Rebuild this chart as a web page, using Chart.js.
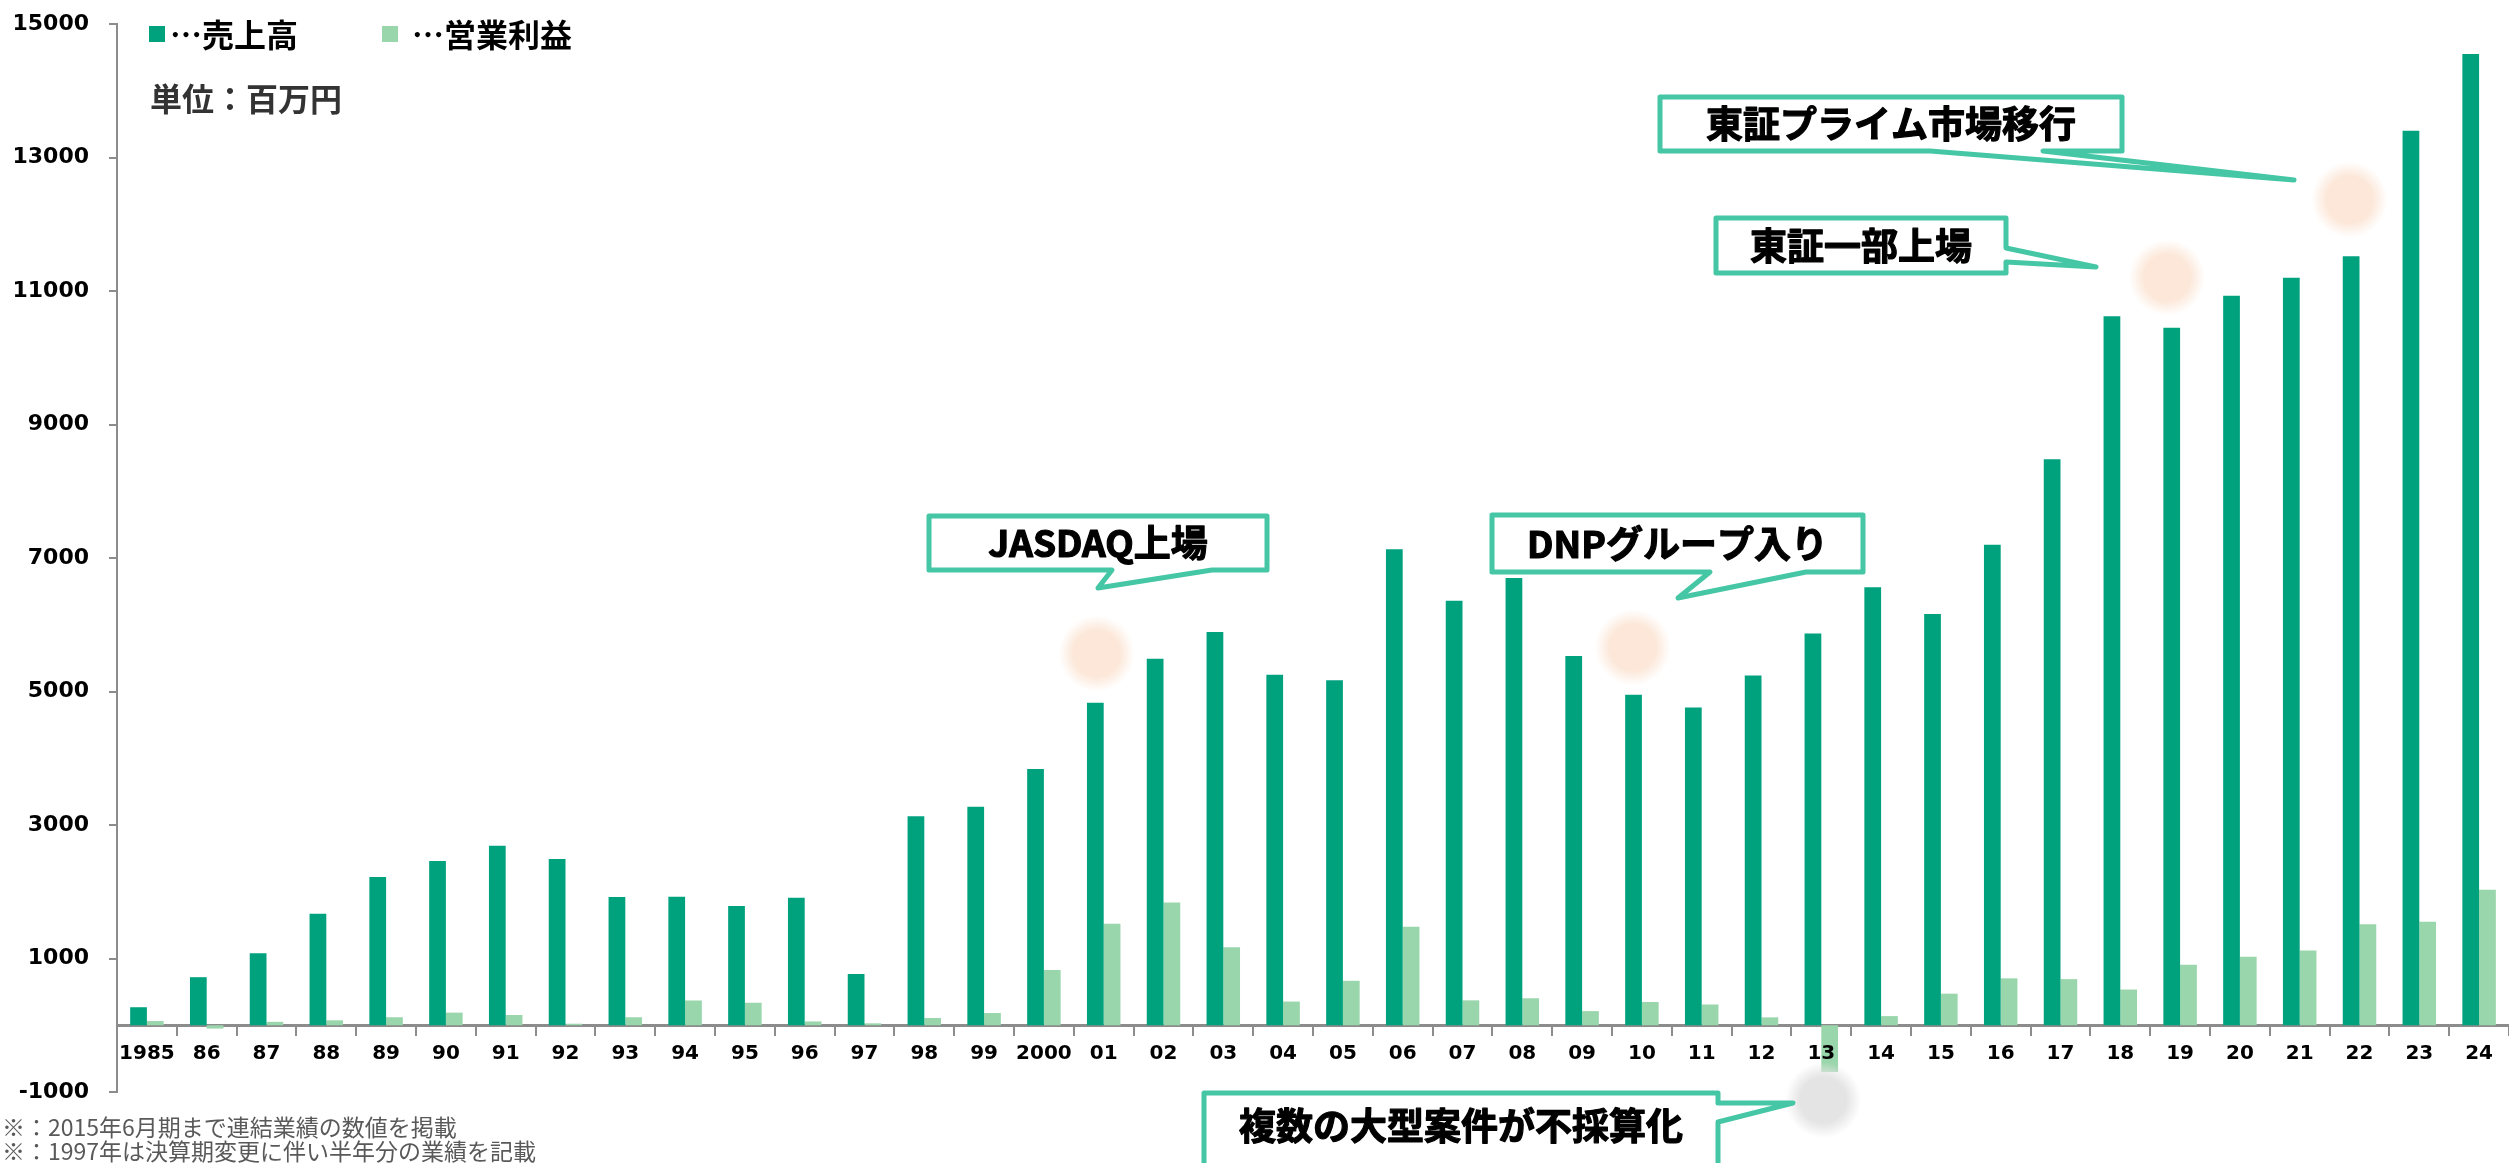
<!DOCTYPE html>
<html>
<head>
<meta charset="utf-8">
<script src="https://cdn.jsdelivr.net/npm/chart.js@4.4.1/dist/chart.umd.min.js"></script>
<style>
  html, body { margin: 0; padding: 0; background: #fff; }
  #wrap { width: 2509px; height: 1163px; position: relative; }
</style>
</head>
<body>
<div id="wrap"><canvas id="salesChart" width="2509" height="1163"></canvas></div>
<script>
// data (百万円)
const years = ["1985", "86", "87", "88", "89", "90", "91", "92", "93", "94", "95", "96", "97", "98", "99",
  "2000", "01", "02", "03", "04", "05", "06", "07", "08", "09", "10", "11", "12", "13", "14", "15",
  "16", "17", "18", "19", "20", "21", "22", "23", "24"];
const salesLabel = "売上高";
const profitLabel = "営業利益";
const sales = [270, 720, 1080, 1670, 2220, 2460, 2690, 2490, 1920, 1925, 1785, 1910, 766, 3130, 3275,
  3840, 4830, 5490, 5890, 5250, 5170, 7130, 6360, 6700, 5530, 4950, 4760, 5240, 5870, 6560, 6160,
  7200, 8480, 10620, 10450, 10930, 11200, 11520, 13400, 14550];
const profit = [63, -50, 51, 74, 120, 189, 154, 23, 120, 371, 337, 57, 29, 109, 183,
  829, 1520, 1840, 1170, 355, 666, 1475, 373, 404, 212, 348, 311, 118, -700, 137, 473,
  703, 691, 535, 908, 1027, 1120, 1512, 1549, 2029];
const yMin = -1000;
const yMax = 15000;
const yStep = 2000;
const unitText = "単位：百万円";
const notes = ["※：2015年6月期まで連結業績の数値を掲載", "※：1997年は決算期変更に伴い半年分の業績を記載"];

const DARK = "#00a27e";
const LIGHT = "#9ad6ab";
const TEAL = "#45c6a5";
const AXIS = "#8c8c8c";

// events: glow sits on a year / value, box is placed in pixels
const events = [
  { text: "JASDAQ上場", year: "01", value: 5570, dx: -7, glow: "252,231,216",
    box: [929, 516, 338, 54], tail: { side: "bottom", a: 1112, b: 1212, tip: [1098, 588] } },
  { text: "DNPグループ入り", year: "10", value: 5660, dx: -9, glow: "252,231,216",
    box: [1492, 515, 371, 57], tail: { side: "bottom", a: 1710, b: 1806, tip: [1678, 598] } },
  { text: "東証一部上場", year: "19", value: 11200, dx: -13, glow: "252,231,216",
    box: [1716, 218, 290, 55], tail: { side: "right", a: 248, b: 262, tip: [2096, 267] } },
  { text: "東証プライム市場移行", year: "22", value: 12370, dx: -10, glow: "252,231,216",
    box: [1660, 97, 462, 54], tail: { side: "bottom", a: 1930, b: 2043, tip: [2294, 180] } },
  { text: "複数の大型案件が不採算化", year: "13", value: -1120, dx: 2, glow: "228,228,228",
    box: [1204, 1093, 514, 110], tail: { side: "right", a: 1103, b: 1122, tip: [1793, 1103] } }
];

function calloutPath(ctx, box, tail) {
  const [x, y, w, h] = box;
  ctx.beginPath();
  ctx.moveTo(x, y);
  ctx.lineTo(x + w, y);
  if (tail.side === "right") {
    ctx.lineTo(x + w, tail.a);
    ctx.lineTo(tail.tip[0], tail.tip[1]);
    ctx.lineTo(x + w, tail.b);
  }
  ctx.lineTo(x + w, y + h);
  if (tail.side === "bottom") {
    ctx.lineTo(tail.b, y + h);
    ctx.lineTo(tail.tip[0], tail.tip[1]);
    ctx.lineTo(tail.a, y + h);
  }
  ctx.lineTo(x, y + h);
  ctx.closePath();
}

const extras = {
  id: "extras",
  afterDraw(chart) {
    const ctx = chart.ctx;
    const xs = chart.scales.x;
    const ys = chart.scales.y;
    ctx.save();

    // soft glow circles
    events.forEach(ev => {
      const cx = xs.getPixelForValue(years.indexOf(ev.year)) + ev.dx;
      const cy = ys.getPixelForValue(ev.value);
      const g = ctx.createRadialGradient(cx, cy, 0, cx, cy, 38);
      g.addColorStop(0, `rgba(${ev.glow},1)`);
      g.addColorStop(0.6, `rgba(${ev.glow},1)`);
      g.addColorStop(1, `rgba(${ev.glow},0)`);
      ctx.fillStyle = g;
      ctx.beginPath();
      ctx.ellipse(cx, cy, 38, 40, 0, 0, Math.PI * 2);
      ctx.fill();
    });

    // callout boxes
    events.forEach(ev => {
      calloutPath(ctx, ev.box, ev.tail);
      ctx.fillStyle = "#fff";
      ctx.fill();
      ctx.lineWidth = 5;
      ctx.lineJoin = "round";
      ctx.strokeStyle = TEAL;
      ctx.stroke();
      ctx.fillStyle = "#000";
      ctx.strokeStyle = "#000";
      ctx.lineWidth = 1.2;
      ctx.font = "bold 37px 'Noto Sans CJK JP'";
      ctx.textAlign = "center";
      ctx.textBaseline = "middle";
      const [bx, by, bw, bh] = ev.box;
      const ty = bh > 80 ? 1126 : by + bh / 2;
      ctx.fillText(ev.text, bx + bw / 2, ty);
      ctx.strokeText(ev.text, bx + bw / 2, ty);
    });

    // legend
    ctx.textAlign = "left";
    ctx.textBaseline = "middle";
    ctx.font = "bold 32px 'Noto Sans CJK JP'";
    ctx.fillStyle = DARK;
    ctx.fillRect(149, 26, 16, 16);
    ctx.fillStyle = "#000";
    ctx.fillText("…" + salesLabel, 170, 35);
    ctx.fillStyle = LIGHT;
    ctx.fillRect(382, 26, 16, 16);
    ctx.fillStyle = "#000";
    ctx.fillText("…" + profitLabel, 412, 35);

    // unit
    ctx.fillStyle = "#333";
    ctx.font = "bold 32px 'Noto Sans CJK JP'";
    ctx.fillText(unitText, 150, 99);

    // notes
    ctx.fillStyle = "#595959";
    ctx.font = "23px 'Noto Sans CJK JP'";
    ctx.fillText(notes[0], 2, 1127);
    ctx.fillText(notes[1], 2, 1151);

    ctx.restore();
  }
};

new Chart(document.getElementById("salesChart"), {
  type: "bar",
  data: {
    labels: years,
    datasets: [
      { label: salesLabel, data: sales, backgroundColor: DARK, categoryPercentage: 0.56, barPercentage: 1 },
      { label: profitLabel, data: profit, backgroundColor: LIGHT, categoryPercentage: 0.56, barPercentage: 1 }
    ]
  },
  options: {
    responsive: false,
    animation: false,
    devicePixelRatio: 1,
    layout: { autoPadding: false, padding: { top: 24, bottom: 71, left: 0, right: 0 } },
    plugins: { legend: { display: false }, tooltip: { enabled: false } },
    scales: {
      x: {
        position: { y: 0 },
        grid: { drawOnChartArea: false, offset: true, tickLength: 9, color: AXIS, lineWidth: 2 },
        border: { color: AXIS, width: 3 },
        ticks: {
          z: 1, autoSkip: false, maxRotation: 0, minRotation: 0, color: "#000", padding: 8,
          font: { family: "'DejaVu Sans'", weight: "bold", size: 20 }
        }
      },
      y: {
        min: yMin,
        max: yMax,
        afterFit: s => { s.width = 117; s.paddingTop = 0; s.paddingBottom = 0; },
        grid: { drawOnChartArea: false, tickLength: 8, color: AXIS, lineWidth: 2 },
        border: { color: AXIS, width: 2 },
        ticks: {
          stepSize: yStep, color: "#000", padding: 20,
          font: { family: "'DejaVu Sans'", weight: "bold", size: 22 },
          callback: v => String(v)
        }
      }
    }
  },
  plugins: [extras]
});
</script>
</body>
</html>
